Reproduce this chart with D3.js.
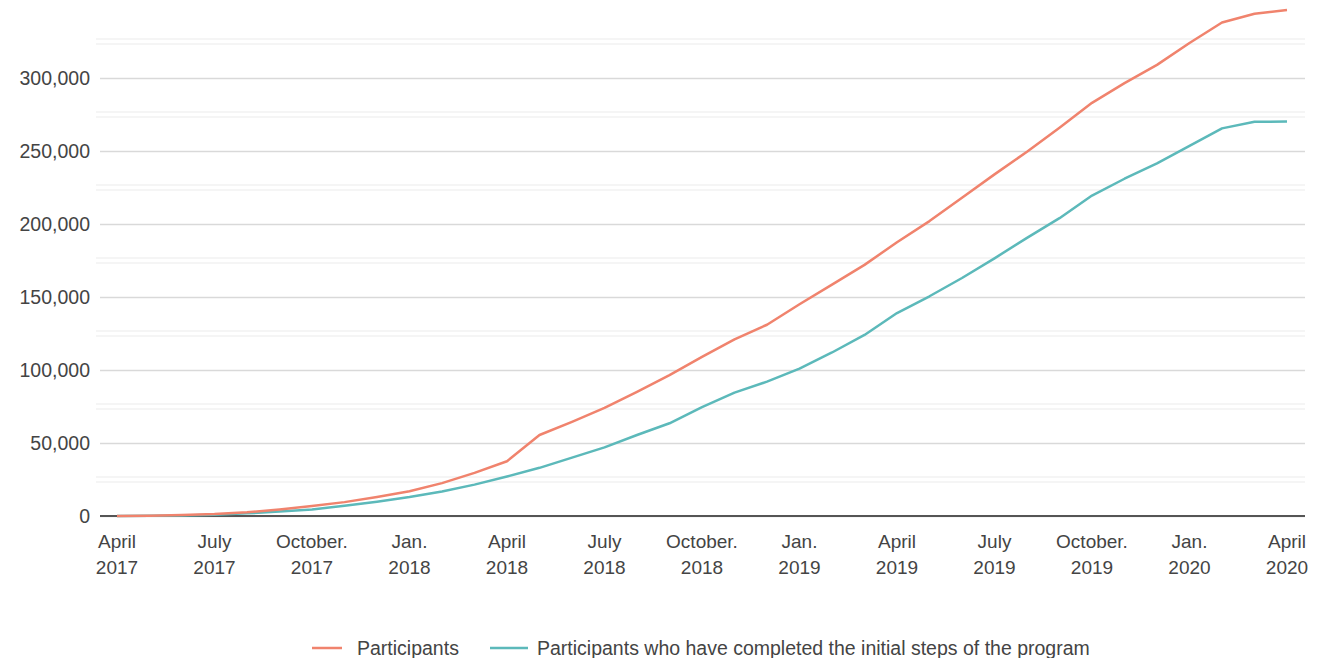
<!DOCTYPE html>
<html>
<head>
<meta charset="utf-8">
<script src="https://cdn.jsdelivr.net/npm/d3@7"></script>
<style>
html,body{margin:0;padding:0;background:#fff;}
svg{display:block;font-family:"Liberation Sans", Arial, sans-serif;}
</style>
</head>
<body>
<svg id="chart" width="1329" height="658"></svg>
<script>
// Months from April 2017 (index 0) to April 2020 (index 36)
const months = d3.range(0, 37);
const participants = [0,200,600,1300,2500,4500,6800,9500,13000,17000,22500,29500,37500,55500,64500,74000,85000,96500,109000,121000,131000,145000,158500,172000,187500,202000,218000,234000,249500,266000,283000,296500,309000,324000,338000,344000,346500];
const completed = [0,100,300,800,1800,3000,4500,7000,9800,13000,16800,21500,27000,33000,40000,47000,55500,63500,74500,84500,92000,101000,112000,124000,139000,150500,163000,176500,190500,204000,219500,231000,241500,253500,265500,270000,270200];
const xTickIdx = [0,3,6,9,12,15,18,21,24,27,30,33,36];
const xTickLabels = [["April","2017"],["July","2017"],["October.","2017"],["Jan.","2018"],["April","2018"],["July","2018"],["October.","2018"],["Jan.","2019"],["April","2019"],["July","2019"],["October.","2019"],["Jan.","2020"],["April","2020"]];
const yTicks = [0,50000,100000,150000,200000,250000,300000];
const yMinor = [25000,75000,125000,175000,225000,275000,325000];
const seriesNames = ["Participants","Participants who have completed the initial steps of the program"];
const colors = ["#f0836d","#5cb9ba"];

const svg = d3.select("#chart");
const x = d3.scaleLinear().domain([0,36]).range([117,1287]);
const y = d3.scaleLinear().domain([0,50000]).range([516,443]);
const gridL = 100, gridR = 1305;

// minor grid (faint double lines)
const minor = svg.append("g");
yMinor.forEach(v => {
  [-2.5, 2.5].forEach(off => {
    minor.append("line").attr("x1",gridL-4).attr("x2",gridR)
      .attr("y1",y(v)+off).attr("y2",y(v)+off)
      .attr("stroke","#f2f2f2").attr("stroke-width",1.5);
  });
});

// major grid + y labels
const yAxis = d3.axisLeft(y).tickValues(yTicks).tickSize(-(gridR-gridL)).tickPadding(10)
  .tickFormat(d3.format(","));
const gy = svg.append("g").attr("transform",`translate(${gridL},0)`).call(yAxis);
gy.select(".domain").remove();
gy.selectAll(".tick line").attr("stroke","#d9d9d9").attr("stroke-width",1.5);
gy.selectAll(".tick text").attr("fill","#444").style("font-size","19.5px").attr("x",-10);

// x axis baseline
svg.append("line").attr("x1",gridL).attr("x2",gridR).attr("y1",y(0)).attr("y2",y(0))
  .attr("stroke","#555").attr("stroke-width",2);

// x labels
const xl = svg.append("g");
xTickIdx.forEach((m,i) => {
  const t = xl.append("text").attr("x",x(m)).attr("y",548).attr("text-anchor","middle")
    .attr("fill","#444").style("font-size","19px");
  t.append("tspan").attr("x",x(m)).attr("dy",0).text(xTickLabels[i][0]);
  t.append("tspan").attr("x",x(m)).attr("dy",26).text(xTickLabels[i][1]);
});

// lines
const line = d3.line().x((d,i)=>x(months[i])).y(d=>y(d));
[completed, participants].forEach((s,k) => {
  svg.append("path").datum(s).attr("d",line).attr("fill","none")
    .attr("stroke", k===0 ? colors[1] : colors[0]).attr("stroke-width",2.5)
    .attr("stroke-linejoin","round");
});

// legend
const lg = svg.append("g");
const legendItems = [{x:312, w:30, tx:357}, {x:490, w:38, tx:537}];
legendItems.forEach((it,i) => {
  lg.append("line").attr("x1",it.x).attr("x2",it.x+it.w).attr("y1",648).attr("y2",648)
    .attr("stroke",colors[i]).attr("stroke-width",2.5);
  lg.append("text").attr("x",it.tx).attr("y",655).attr("fill","#444")
    .style("font-size","19.5px").text(seriesNames[i]);
});
</script>
</body>
</html>
